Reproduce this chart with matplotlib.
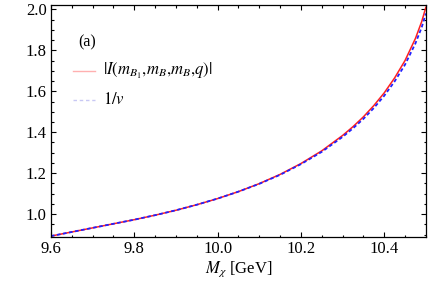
import matplotlib
matplotlib.use("Agg")
import matplotlib.pyplot as plt
from matplotlib.ticker import MultipleLocator

# values
mchi = [9.60, 9.65, 9.70, 9.75, 9.80, 9.85, 9.90, 9.95, 10.00, 10.05, 10.10,
        10.15, 10.20, 10.25, 10.30, 10.325, 10.35, 10.375, 10.40, 10.425, 10.45,
        10.475, 10.49, 10.50]
abs_I = [0.893, 0.913, 0.933, 0.953, 0.973, 0.995, 1.019, 1.046, 1.076, 1.110, 1.149,
         1.194, 1.247, 1.309, 1.384, 1.427, 1.475, 1.530, 1.592, 1.665, 1.750,
         1.858, 1.940, 2.010]
inv_v = [0.893, 0.913, 0.933, 0.953, 0.973, 0.995, 1.019, 1.046, 1.076, 1.110, 1.148,
         1.192, 1.244, 1.304, 1.377, 1.419, 1.465, 1.518, 1.578, 1.648, 1.730,
         1.834, 1.912, 1.980]
xticks = [9.6, 9.8, 10.0, 10.2, 10.4]
yticks = [1.0, 1.2, 1.4, 1.6, 1.8, 2.0]

plt.rcParams['font.family'] = 'serif'
plt.rcParams['font.serif'] = ['Liberation Serif', 'DejaVu Serif']
plt.rcParams['mathtext.fontset'] = 'stix'

fig = plt.figure(figsize=(4.28, 2.89), dpi=100)
ax = fig.add_axes([0.119, 0.181, 0.876, 0.803])

ax.plot(mchi, abs_I, color='#ff2020', lw=1.1)
ax.plot(mchi, inv_v, color='#2020ff', lw=1.3, ls=(0, (2.0, 1.4)))

ax.set_xlim(9.6, 10.5)
ax.set_ylim(0.89, 2.023)
ax.xaxis.set_minor_locator(MultipleLocator(0.05))
ax.yaxis.set_minor_locator(MultipleLocator(0.05))
ax.set_xticks(xticks)
ax.set_xticklabels(['%.1f' % t for t in xticks])
ax.set_yticks(yticks)
ax.set_yticklabels(['%.1f' % t for t in yticks])
ax.tick_params(which='both', direction='in', top=True, right=True, labelsize=12, width=0.8)
ax.tick_params(which='major', length=3.5, pad=3)
ax.tick_params(which='minor', length=1.8)
for s in ax.spines.values():
    s.set_linewidth(0.9)

ax.set_xlabel(r'$M_\chi$ [GeV]', fontsize=12, labelpad=2)

# panel tag and legend (drawn by hand, Mathematica style)
ax.text(0.072, 0.838, '(a)', transform=ax.transAxes, fontsize=11.5, va='center')
ax.plot([0.059, 0.117], [0.715, 0.715], transform=ax.transAxes, color='#ffb0b0', lw=1.0)
ax.plot([0.059, 0.117], [0.587, 0.587], transform=ax.transAxes, color='#c8c8f4', lw=1.0,
        ls=(0, (2.5, 2.0)))
ax.text(0.139, 0.715, r'$|I(m_{B_1}{,}m_B{,}m_B{,}q)|$', transform=ax.transAxes,
        fontsize=12, va='center')
ax.text(0.139, 0.587, r'$1/v$', transform=ax.transAxes, fontsize=12, va='center')

fig.savefig('out.png', dpi=100)
